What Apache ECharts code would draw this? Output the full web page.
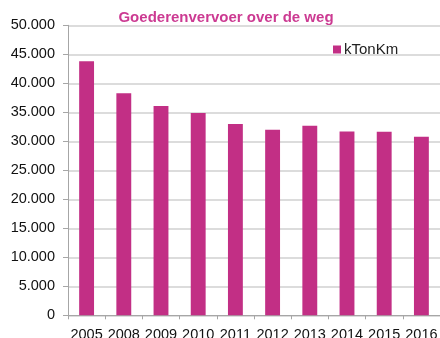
<!DOCTYPE html>
<html>
<head>
<meta charset="utf-8">
<script src="https://cdn.jsdelivr.net/npm/echarts@6/dist/echarts.min.js"></script>
<style>
  html, body { margin: 0; padding: 0; background: #fff; }
  #chart { width: 440px; height: 338px; }
</style>
</head>
<body>
<div id="chart"></div>
<script>
// Freight transport by road, in thousand ton-kilometres
const years = ['2005', '2008', '2009', '2010', '2011', '2012', '2013', '2014', '2015', '2016'];
const kTonKm = [43800, 38300, 36100, 34900, 33000, 32000, 32700, 31700, 31650, 30800];
const seriesName = 'kTonKm';
const chartTitle = 'Goederenvervoer over de weg';

// Dutch number format: dot as thousands separator
function formatNl(v) {
  return String(v).replace(/\B(?=(\d{3})+(?!\d))/g, '.');
}

const chart = echarts.init(document.getElementById('chart'), null, { renderer: 'canvas' });
chart.setOption({
  animation: false,
  backgroundColor: '#ffffff',
  title: {
    text: chartTitle,
    left: 221,
    top: 5,
    textAlign: 'center',
    textStyle: {
      fontFamily: 'Liberation Sans, Arial, sans-serif',
      fontSize: 15,
      fontWeight: 'bold',
      color: '#cc3a92'
    }
  },
  legend: {
    left: 328,
    top: 37,
    icon: 'rect',
    itemWidth: 8,
    itemHeight: 8,
    itemGap: 2,
    data: [seriesName],
    textStyle: {
      fontFamily: 'Liberation Sans, Arial, sans-serif',
      fontSize: 15,
      color: '#222',
      padding: [0, 0, 0, -2]
    }
  },
  grid: {
    left: 68,
    right: 0,
    top: 25.3,
    bottom: 22.7,
    containLabel: false,
    outerBoundsMode: 'none'
  },
  xAxis: {
    type: 'category',
    data: years,
    boundaryGap: true,
    axisLine: { lineStyle: { color: '#a6a6a6', width: 1 } },
    axisTick: { show: true, length: 4, lineStyle: { color: '#a6a6a6' } },
    axisLabel: {
      interval: 0,
      margin: 12,
      fontFamily: 'Liberation Sans, Arial, sans-serif',
      fontSize: 14.5,
      color: '#111'
    },
    splitLine: { show: false }
  },
  yAxis: {
    type: 'value',
    min: 0,
    max: 50000,
    interval: 5000,
    axisLine: { show: true, lineStyle: { color: '#a6a6a6', width: 1 } },
    axisTick: { show: true, length: 5, inside: false, lineStyle: { color: '#a6a6a6' } },
    axisLabel: {
      margin: 13,
      fontFamily: 'Liberation Sans, Arial, sans-serif',
      fontSize: 14.5,
      color: '#111',
      formatter: formatNl
    },
    splitLine: { show: true, lineStyle: { color: '#dcdcdc', width: 2 } }
  },
  series: [{
    name: seriesName,
    type: 'bar',
    data: kTonKm,
    barWidth: '40%',
    itemStyle: { color: '#c22f85' }
  }]
});
</script>
</body>
</html>
